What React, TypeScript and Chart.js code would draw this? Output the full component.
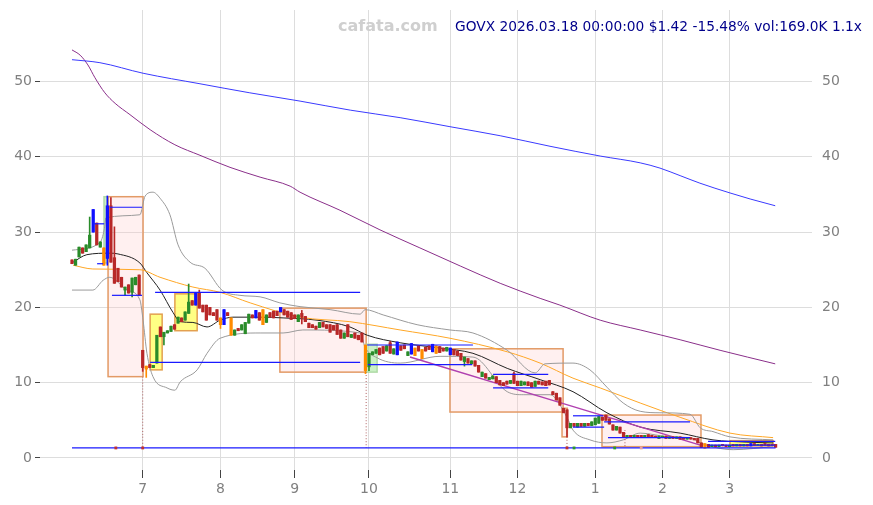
import React, { useEffect, useRef } from 'react';
import { Chart, registerables } from 'chart.js';

Chart.register(...registerables);

// ---------- data ----------
const monthTicks = [20, 42, 63, 84, 107, 126, 148, 167, 186];
const monthLabels = ['7', '8', '9', '10', '11', '12', '1', '2', '3'];
const priceTicks = [0, 10, 20, 30, 40, 50];

const opens = [
  26.3, 25.6, 26.7, 27.9, 27.4, 27.9, 33.0, 31.2, 28.0, 27.9,
  26.5, 33.5, 26.6, 25.2, 24.0, 22.3, 23.0, 22.0, 23.0, 24.3,
  14.3, 12.2, 12.4, 12.0, 12.6, 17.4, 16.1, 16.6, 16.8, 17.7,
  17.9, 18.6, 18.3, 19.2, 20.9, 20.3, 22.0, 20.3, 20.3, 20.0,
  19.3, 19.7, 18.6, 17.7, 19.3, 18.6, 16.3, 17.2, 17.0, 16.5,
  17.9, 19.0, 18.6, 19.3, 19.7, 18.0, 19.3, 19.5, 19.5, 19.4,
  19.7, 19.5, 19.3, 19.0, 18.1, 19.2, 18.8, 17.9, 17.7, 17.5,
  17.3, 18.0, 17.7, 17.7, 17.6, 17.7, 17.0, 15.9, 17.7, 16.0,
  16.6, 16.3, 16.6, 15.0, 12.1, 13.7, 13.9, 14.6, 14.8, 14.2,
  15.3, 13.8, 13.7, 14.9, 15.0, 13.6, 13.8, 14.6, 14.9, 14.4,
  14.7, 14.9, 14.1, 14.9, 14.8, 14.6, 14.2, 13.7, 14.4, 14.2,
  13.9, 12.8, 13.2, 12.5, 12.9, 12.3, 10.8, 11.2, 10.4, 10.5,
  10.8, 10.3, 10.0, 10.2, 9.9, 11.2, 10.2, 9.6, 9.7, 10.1,
  10.0, 9.5, 10.2, 10.1, 10.2, 10.3, 8.8, 8.6, 8.0, 6.6,
  6.4, 4.0, 4.6, 4.1, 4.6, 4.2, 4.6, 4.3, 4.4, 4.6,
  5.4, 5.7, 5.2, 4.4, 3.7, 4.1, 3.4, 2.8, 3.0, 2.7,
  3.0, 3.0, 2.8, 3.1, 3.0, 2.9, 2.6, 2.7, 2.9, 2.6,
  2.8, 2.6, 2.8, 2.7, 2.5, 2.7, 2.6, 2.6, 2.0, 1.9,
  1.8, 1.5, 1.7, 1.5, 1.8, 1.7, 1.5, 1.8, 1.6, 1.8,
  1.6, 1.8, 1.6, 1.9, 1.7, 1.8, 1.9, 1.8, 1.8, 1.8,
];

const closes = [
  25.8, 26.4, 28.0, 27.2, 28.3, 29.6, 30.0, 28.3, 28.7, 25.6,
  33.5, 26.0, 23.2, 23.4, 22.7, 22.7, 21.9, 23.9, 24.0, 21.6,
  12.0, 11.8, 12.0, 12.3, 16.3, 16.1, 16.7, 16.9, 17.5, 17.1,
  18.7, 18.1, 19.4, 20.7, 20.3, 21.9, 19.9, 19.4, 18.3, 19.0,
  18.9, 18.3, 17.7, 19.7, 18.9, 16.3, 17.0, 16.9, 17.7, 18.0,
  19.1, 18.6, 19.6, 18.3, 17.7, 19.0, 18.7, 18.6, 18.9, 20.0,
  19.0, 18.7, 18.4, 18.5, 19.0, 18.7, 18.1, 17.3, 17.3, 17.1,
  18.0, 17.4, 17.2, 16.7, 17.0, 16.4, 15.9, 16.6, 16.1, 16.4,
  15.9, 15.7, 15.4, 11.6, 13.9, 14.1, 14.4, 13.7, 13.9, 14.9,
  13.9, 14.5, 15.4, 14.3, 14.5, 14.1, 15.2, 13.6, 14.2, 13.2,
  14.2, 14.4, 15.1, 13.9, 14.0, 14.2, 14.7, 14.6, 13.7, 13.6,
  13.0, 13.4, 12.6, 12.9, 12.2, 11.4, 11.4, 10.6, 10.7, 10.9,
  10.0, 9.7, 9.6, 9.8, 10.3, 9.9, 9.6, 10.2, 10.1, 9.6,
  9.4, 10.2, 9.8, 9.7, 9.6, 9.7, 8.4, 7.7, 7.0, 6.0,
  4.0, 4.6, 4.2, 4.6, 4.2, 4.6, 4.3, 4.8, 5.3, 5.5,
  5.0, 5.0, 4.5, 3.7, 4.2, 3.3, 2.8, 3.0, 2.8, 3.0,
  2.8, 2.7, 3.0, 2.8, 2.7, 2.7, 2.9, 2.9, 2.6, 2.8,
  2.6, 2.8, 2.5, 2.5, 2.7, 2.5, 2.4, 2.0, 1.4, 1.3,
  1.4, 1.7, 1.5, 1.7, 1.6, 1.5, 1.7, 1.6, 1.8, 1.6,
  1.8, 1.6, 1.9, 1.7, 1.8, 1.6, 1.7, 1.6, 1.68, 1.42,
];

// r = down, g = up, b = blue signal, o = orange signal
const candleKinds = (
  'rggrggbrgo' + 'brrrrgrggr' + 'rorggrgggr' + 'grggrbrrrr' + 'rrobrogrgg' +
  'grbrogrrrb' + 'rrrrgrrrrr' + 'grrrrrrgrg' + 'rrrogggrrg' + 'rgbrrgboro' +
  'rrborrgbrr' + 'rgrgrrgrgg' + 'rrrrgrrggr' + 'rgrrrrrrrr' + 'rgrgrgrggg' +
  'rrrrgrrgrg' + 'rrgrrrggrg' + 'rgrrgrrrro' + 'rgrgrrgrgr' + 'grbrgrrrrr'
).split('');

const wickHighs: Record<number, number> = {
  5: 32.0, 10: 34.8, 11: 34.6, 12: 30.7, 33: 23.1, 36: 22.3, 65: 19.6, 90: 15.5, 125: 11.4,
};
const wickLows: Record<number, number> = {
  10: 25.6, 15: 21.6, 17: 21.4, 20: 11.5, 21: 10.7, 26: 15.0, 42: 17.2, 65: 17.8,
  83: 11.2, 84: 11.6, 111: 12.2, 140: 2.8,
};

const maFast = [
  [0.3, 26.0], [4.2, 27.0], [10.7, 27.2], [13.0, 27.1], [19.2, 25.9], [21.2, 24.6],
  [24.9, 22.3], [28.6, 19.3], [30.6, 18.1], [34.2, 18.0], [38.2, 17.4], [41.9, 18.3],
  [45.5, 18.7], [53.2, 18.7], [59.7, 18.6], [69.3, 18.3], [78.6, 17.4], [83.5, 16.3],
  [92.8, 15.3], [104.1, 14.6], [113.4, 13.9], [123.1, 11.9], [132.4, 10.4], [141.7, 8.8],
  [151.3, 6.0], [160.7, 4.1], [172.0, 3.3], [181.3, 2.4], [190.9, 2.1], [198.3, 2.0],
];
const maSlow = [
  [0.3, 25.6], [5.9, 25.1], [19.2, 25.0], [24.9, 24.0], [34.2, 22.7], [41.9, 22.0],
  [50.4, 20.6], [64.5, 18.7], [78.6, 18.1], [92.8, 17.0], [106.9, 15.9], [123.1, 14.1],
  [132.4, 12.6], [141.7, 10.6], [149.4, 9.3], [160.7, 7.3], [172.0, 5.4], [186.1, 3.3],
  [198.3, 2.7],
];
const bandUpper = [
  [0, 27.6], [7.9, 28.6], [9.1, 30.3], [9.6, 31.9], [19.2, 32.3], [20.7, 34.8],
  [22.9, 35.3], [24.9, 34.5], [27.7, 32.3], [30.0, 28.3], [33.4, 26.0], [37.6, 25.2],
  [42.4, 22.3], [47.5, 21.6], [53.2, 21.4], [58.8, 20.6], [64.5, 20.1], [73.0, 19.7],
  [81.5, 19.1], [82.9, 19.7], [88.0, 19.0], [97.6, 17.7], [106.9, 17.0], [113.4, 16.6],
  [123.1, 14.3], [131.0, 11.3], [133.8, 12.5], [141.7, 12.6], [146.5, 11.7], [151.3, 9.4],
  [155.9, 7.3], [160.7, 6.2], [166.3, 6.0], [174.8, 5.8], [177.7, 4.0], [181.3, 3.5],
  [186.1, 2.8], [198.3, 2.4],
];
const bandLower = [
  [0, 22.3], [5.9, 22.3], [8.8, 23.6], [10.7, 24.0], [15.6, 22.3], [19.2, 21.0],
  [20.1, 18.3], [21.2, 13.9], [22.9, 10.8], [26.9, 9.3], [29.1, 9.0], [30.6, 10.1],
  [35.4, 11.7], [38.2, 13.9], [41.9, 15.9], [53.2, 16.6], [59.7, 16.6], [65.3, 17.0],
  [81.5, 16.6], [82.9, 14.7], [86.3, 13.3], [92.8, 12.6], [104.1, 13.5], [113.4, 13.4],
  [123.1, 8.8], [127.6, 8.4], [135.2, 8.4], [140.0, 5.4], [141.7, 3.7], [146.5, 2.4],
  [151.3, 2.0], [155.9, 2.4], [160.7, 3.3], [169.2, 2.8], [174.8, 2.7], [177.7, 2.0],
  [187.0, 1.1], [198.3, 1.5],
];
const maLong = [
  [0, 54.2], [2.3, 53.5], [4.5, 52.2], [6.5, 50.5], [9.3, 48.5], [12.2, 47.1],
  [16.4, 45.6], [22.1, 43.6], [29.1, 41.6], [36.2, 40.2], [44.7, 38.6], [53.2, 37.3],
  [61.7, 36.1], [64.5, 35.3], [75.8, 32.9], [87.1, 30.3], [98.4, 27.9], [109.8, 25.5],
  [121.1, 23.2], [132.4, 21.2], [138.0, 20.3], [149.4, 18.3], [160.7, 17.0], [172.0, 15.7],
  [183.3, 14.3], [198.9, 12.5],
];
const maVeryLong = [
  [0, 52.9], [7.9, 52.5], [20.1, 51.1], [36.2, 49.7], [50.3, 48.5], [64.5, 47.4],
  [78.7, 46.2], [92.8, 45.2], [106.9, 44.0], [121.1, 42.8], [135.2, 41.4], [149.4, 40.1],
  [160.7, 39.2], [166.3, 38.5], [172.0, 37.5], [177.6, 36.5], [186.1, 35.2], [191.8, 34.4],
  [198.9, 33.5],
];
const trendLine = [[95.6, 13.4], [177.7, 1.7]];

// horizontal levels: [fromIndex, toIndex, price]
const levelSegments = [
  [0, 199, 1.33], [10.7, 19.8, 33.3], [5.9, 9.1, 31.1], [7.1, 8.8, 25.8], [11.3, 19.8, 21.6],
  [23.5, 81.5, 22.0], [22.1, 81.5, 12.7], [83.5, 113.4, 15.0], [83.7, 113.2, 12.4],
  [119.1, 134.7, 11.1], [119.1, 134.7, 9.3], [141.7, 150.2, 5.6], [141.7, 150.5, 4.1],
  [150.5, 174.8, 4.8], [151.6, 174.8, 2.7], [179.9, 198.9, 2.2], [179.9, 198.9, 1.7],
];

// zones: [fromIndex, toIndex, top, bottom, type]
const zones: [number, number, number, number, string][] = [
  [9.05, 10.2, 34.7, 25.9, 'green'],
  [10.2, 20.1, 34.7, 10.8, 'pink'],
  [22.1, 25.5, 19.1, 11.7, 'yellow'],
  [29.1, 35.4, 21.8, 16.9, 'yellow'],
  [58.8, 83.2, 19.9, 11.4, 'pink'],
  [83.2, 86.3, 15.1, 11.4, 'green'],
  [106.9, 138.9, 14.5, 6.1, 'pink'],
  [138.6, 140.1, 6.6, 2.8, 'pink'],
  [149.9, 177.9, 5.7, 1.5, 'pink'],
  [186.1, 198.3, 2.3, 1.6, 'yellow'],
];

// event guides: [index, top price]
const eventGuides = [[20, 10.8], [83.2, 11.4], [140, 2.8], [156.4, 3.7]];
const signalsDown = [12.4, 20, 140];
const signalsUp = [142, 153.5];
const signalsOther = [161];
const signalLevel = 1.33;

// ---------- styles ----------
const candleColor: Record<string, string> = {
  r: '#b82828', g: '#2a8c2a', b: '#1010ff', o: '#ff8c00',
};
const zoneStyle: Record<string, { fill: string; stroke: string }> = {
  pink: { fill: 'rgba(255,200,200,0.28)', stroke: '#e39a66' },
  yellow: { fill: 'rgba(255,255,110,0.85)', stroke: '#e3a050' },
  green: { fill: 'rgba(160,230,150,0.55)', stroke: 'rgba(170,215,160,0.9)' },
};

const zonePlugin = {
  id: 'zones',
  beforeDatasetsDraw(chart: any) {
    const { ctx, chartArea, scales } = chart;
    const xs = scales.x;
    const ys = scales.y;
    ctx.save();
    ctx.beginPath();
    ctx.rect(chartArea.left, chartArea.top, chartArea.width, chartArea.height);
    ctx.clip();
    zones.forEach(([a, b, top, bot, kind]) => {
      const x0 = xs.getPixelForValue(a);
      const x1 = xs.getPixelForValue(b);
      const y0 = ys.getPixelForValue(top);
      const y1 = ys.getPixelForValue(bot);
      const st = zoneStyle[kind];
      ctx.fillStyle = st.fill;
      ctx.fillRect(x0, y0, x1 - x0, y1 - y0);
      ctx.strokeStyle = st.stroke;
      ctx.lineWidth = 1.5;
      ctx.strokeRect(x0, y0, x1 - x0, y1 - y0);
    });
    ctx.restore();
  },
};

const pts = (arr: number[][]) => arr.map(([x, y]) => ({ x, y }));

export default function App() {
  const ref = useRef<HTMLCanvasElement | null>(null);

  useEffect(() => {
    if (!ref.current) return;
    const colors = candleKinds.map((k) => candleColor[k]);
    const bodies = opens.map((o, i) => ({ x: i, y: [o, closes[i]] }));
    const wicks = opens.map((o, i) => ({
      x: i,
      y: [
        wickLows[i] ?? Math.min(o, closes[i]),
        wickHighs[i] ?? Math.max(o, closes[i]),
      ],
    }));

    const lineDs = (data: any[], color: string, width: number, order: number, extra: any = {}) => ({
      type: 'line',
      data,
      borderColor: color,
      borderWidth: width,
      pointRadius: 0,
      fill: false,
      order,
      cubicInterpolationMode: 'monotone',
      ...extra,
    });

    const datasets: any[] = [
      lineDs(pts(maVeryLong), '#3a3aff', 1, 5),
      lineDs(pts(maLong), '#8a2f8a', 1, 5),
      lineDs(pts(bandUpper), '#9a9a9a', 1, 5),
      lineDs(pts(bandLower), '#9a9a9a', 1, 5),
      lineDs(pts(maSlow), '#ffa726', 1, 5),
      lineDs(pts(maFast), '#222222', 1, 5),
      lineDs(pts(trendLine), '#b040b0', 1.5, 4),
      ...eventGuides.map(([x, top]) =>
        lineDs([{ x, y: top }, { x, y: signalLevel }], '#b06060', 1, 4, { borderDash: [1, 2] })
      ),
      {
        type: 'bar',
        data: wicks,
        backgroundColor: colors,
        barThickness: 1,
        grouped: false,
        order: 3,
      },
      {
        type: 'bar',
        data: bodies,
        backgroundColor: colors,
        barThickness: 2.6,
        grouped: false,
        order: 3,
      },
      ...levelSegments.map(([a, b, v]) =>
        lineDs([{ x: a, y: v }, { x: b, y: v }], '#1a1aff', 1.2, 1, { cubicInterpolationMode: 'default' })
      ),
      {
        type: 'scatter',
        data: signalsDown.map((x) => ({ x, y: signalLevel })),
        pointStyle: 'rect',
        pointRadius: 2,
        backgroundColor: '#c03030',
        borderWidth: 0,
        order: 0,
      },
      {
        type: 'scatter',
        data: signalsUp.map((x) => ({ x, y: signalLevel })),
        pointStyle: 'rect',
        pointRadius: 2,
        backgroundColor: '#2a9a2a',
        borderWidth: 0,
        order: 0,
      },
      {
        type: 'scatter',
        data: signalsOther.map((x) => ({ x, y: signalLevel })),
        pointStyle: 'rect',
        pointRadius: 2,
        backgroundColor: '#e8a0a0',
        borderWidth: 0,
        order: 0,
      },
    ];

    const tickFont = { family: 'DejaVu Sans', size: 14 };
    const chart = new Chart(ref.current, {
      type: 'bar',
      data: { datasets },
      plugins: [zonePlugin],
      options: {
        animation: false,
        responsive: false,
        events: [],
        layout: { padding: { top: 10, left: 0, right: 0, bottom: 0 } },
        plugins: { legend: { display: false }, tooltip: { enabled: false } },
        scales: {
          x: {
            type: 'linear',
            min: -9.05,
            max: 209.3,
            offset: false,
            grid: { offset: false, color: '#dddddd', tickLength: 8, tickColor: '#444444' },
            border: { display: false },
            afterBuildTicks: (s: any) => {
              s.ticks = monthTicks.map((v) => ({ value: v }));
            },
            ticks: {
              autoSkip: false,
              maxRotation: 0,
              color: '#808080',
              font: tickFont,
              padding: 3,
              callback: (v: any) => monthLabels[monthTicks.indexOf(v)] ?? '',
            },
            afterFit: (s: any) => {
              s.height = 35;
              s.paddingLeft = 0;
              s.paddingRight = 0;
            },
          },
          y: {
            type: 'linear',
            position: 'left',
            min: -1.6,
            max: 59.5,
            afterBuildTicks: (s: any) => {
              s.ticks = priceTicks.map((v) => ({ value: v }));
            },
            grid: { color: '#dddddd', tickLength: 5, tickColor: '#444444' },
            border: { display: false },
            ticks: { color: '#808080', font: tickFont, padding: 3 },
            afterFit: (s: any) => {
              s.width = 40;
              s.paddingTop = 0;
              s.paddingBottom = 0;
            },
          },
          y2: {
            type: 'linear',
            position: 'right',
            min: -1.6,
            max: 59.5,
            afterBuildTicks: (s: any) => {
              s.ticks = priceTicks.map((v) => ({ value: v }));
            },
            grid: { drawOnChartArea: false, drawTicks: false },
            border: { display: false },
            ticks: { color: '#808080', font: tickFont, padding: 10 },
            afterFit: (s: any) => {
              s.width = 61;
              s.paddingTop = 0;
              s.paddingBottom = 0;
            },
          },
        },
      } as any,
    } as any);
    return () => chart.destroy();
  }, []);

  return (
    <div style={{ position: 'absolute', left: 0, top: 0, width: 873, height: 505, background: '#ffffff' }}>
      <canvas ref={ref} width={873} height={505} style={{ display: 'block' }} />
      <div
        style={{
          position: 'absolute', left: 338, top: 16, fontFamily: 'DejaVu Sans', fontWeight: 'bold',
          fontSize: 16, lineHeight: '20px', color: '#cfcfcf', whiteSpace: 'nowrap',
        }}
      >
        cafata.com
      </div>
      <div
        style={{
          position: 'absolute', right: 11, top: 17, fontFamily: 'DejaVu Sans', fontSize: 13.75,
          lineHeight: '18px', color: '#00008b', whiteSpace: 'nowrap',
        }}
      >
        GOVX 2026.03.18 00:00:00 $1.42 -15.48% vol:169.0K 1.1x
      </div>
    </div>
  );
}
